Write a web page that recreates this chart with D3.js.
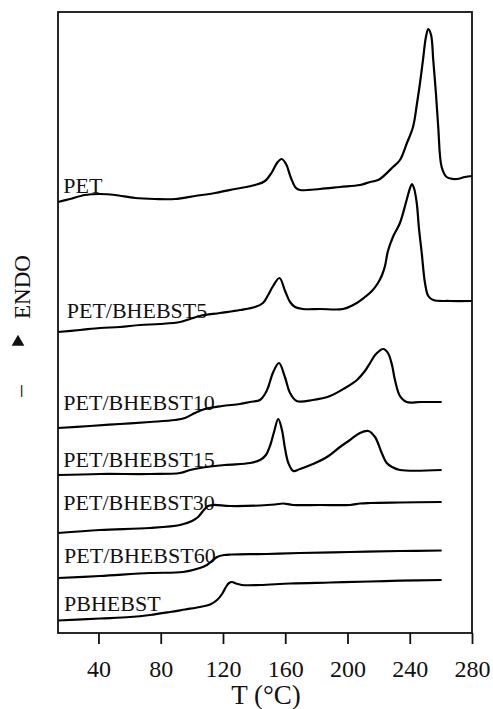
<!DOCTYPE html>
<html>
<head>
<meta charset="utf-8">
<script src="https://cdn.jsdelivr.net/npm/d3@7"></script>
<style>
  body { margin: 0; background: #fff; }
  text { font-family: "Liberation Serif", "Times New Roman", serif; fill: #111; }
</style>
</head>
<body>
<script>
// DSC traces, [T (°C), heat flow (a.u., stacked)]
var names = ["PET", "PET/BHEBST5", "PET/BHEBST10", "PET/BHEBST15", "PET/BHEBST30", "PET/BHEBST60", "PBHEBST"];

var pet = [[14,43.1],[21.7,43.4],[31.3,43.8],[41,43.9],[50.6,43.8],[63.5,43.5],[76.3,43.4],[89.2,43.4],[102,43.7],[114.9,44.0],[127.7,44.4],[140.6,44.8],[147,45.2],[151.5,46.1],[154.7,47.0],[157.7,47.4],[160.5,46.9],[163.7,45.5],[166.9,44.5],[169.5,44.3],[182.3,44.4],[195.2,44.6],[208,44.8],[214.5,45.1],[217.7,45.2],[220.9,45.4],[229.2,46.6],[233.7,47.3],[238.2,49.0],[242.1,50.6],[244.7,53.0],[246.6,55.0],[248.5,57.3],[250.4,59.6],[251.9,60.4],[253.7,59.8],[255.1,57.3],[256.9,53.8],[258.3,50.6],[260.5,46.6],[263.7,45.6],[267.8,45.4],[270.4,45.4],[275.5,45.6],[280,45.7]];

var bhebst5 = [[14,30.1],[28.1,30.3],[41,30.5],[53.8,30.6],[66.7,30.8],[79.5,30.9],[92.4,31.1],[98.8,31.4],[105.2,31.7],[118.1,32.0],[130.9,32.3],[140.6,32.6],[145.7,33.0],[149,33.8],[152.2,34.7],[156.3,35.5],[159.9,34.2],[163.1,33.1],[166.3,32.6],[171.4,32.4],[182.3,32.4],[197.1,32.4],[204.8,32.9],[211.2,33.6],[215.7,34.2],[219.6,35.0],[222.2,35.8],[224.1,36.7],[226,38.2],[229.2,39.6],[233.7,41.0],[238,43.3],[240.2,44.5],[241.4,44.9],[242.7,44.5],[244.5,43.0],[245.9,40.5],[247.7,38.0],[249.8,35.0],[251.9,33.7],[255.1,33.3],[265.9,33.2],[280,33.2]];

var bhebst10 = [[14,20.5],[34.6,20.7],[53.8,20.9],[73.1,21.1],[89.2,21.3],[95.6,21.5],[102,22.0],[108.4,22.4],[119.4,22.7],[130.9,22.9],[137.4,23.1],[143.8,23.3],[147,23.9],[149.1,24.6],[152.3,26.1],[156,27.0],[159.8,25.6],[163.1,24.0],[167.4,23.2],[177.8,23.3],[188.8,23.7],[198.4,24.5],[206.1,25.3],[211.2,26.2],[214.5,27.0],[218.3,27.9],[223,28.4],[226,28.0],[228.6,26.8],[230.5,25.3],[233.7,23.7],[238,23.1],[246.6,23.1],[260.5,23.1]];

var bhebst15 = [[14,15.8],[41,15.9],[73.1,15.9],[92.4,16.0],[98.8,16.3],[105.2,16.5],[121.3,16.8],[137.4,17.0],[143.8,17.3],[147.6,17.8],[150.2,18.7],[152.8,20.1],[155.5,21.4],[157.9,20.3],[159.8,18.5],[162,17.0],[165.2,16.2],[169.5,16.4],[177.8,16.9],[186.8,17.6],[195.2,18.6],[201.6,19.3],[208,20.0],[213.4,20.2],[217.7,19.6],[222,18.0],[225.2,17.0],[228.6,16.6],[233.7,16.3],[260.5,16.3]];

var bhebst30 = [[14,10.0],[41,10.3],[73.1,10.5],[92.4,10.8],[100.1,11.2],[104,11.6],[107.2,12.2],[110.4,12.7],[113.6,12.8],[124.5,12.7],[143.8,12.75],[153.4,12.85],[158.6,12.95],[165,12.8],[182.3,12.8],[201.6,12.8],[208,12.95],[214.5,13.0],[233.7,13.05],[260.5,13.1]];

var bhebst60 = [[14,5.5],[41,5.7],[73.1,6.0],[94.3,6.1],[105.2,6.5],[109.7,6.8],[112.9,7.2],[116.2,7.6],[120.7,7.8],[125.8,7.85],[148.1,7.9],[169.5,8.0],[201.6,8.1],[233.7,8.2],[260.5,8.25]];

var pbhebst = [[14,1.25],[41,1.45],[60.3,1.6],[73.1,1.8],[86,2.1],[95.6,2.35],[105.2,2.6],[111.7,2.85],[116.2,3.3],[119.4,3.9],[121.9,4.6],[123.9,5.0],[125.8,5.1],[128.4,4.95],[132.2,4.8],[143.8,4.8],[163.1,4.95],[188.8,5.05],[214.5,5.15],[233.7,5.23],[260.5,5.3]];

var series = [pet, bhebst5, bhebst10, bhebst15, bhebst30, bhebst60, pbhebst];

// where each curve name sits, [T, a.u.]
var labelAt = [[17.4,44.05],[19.6,31.47],[17.4,22.3],[17.4,16.6],[17.4,12.3],[17.9,6.97],[17.9,2.23]];

var xTicks = [40, 80, 120, 160, 200, 240, 280];

var m = { t: 12, r: 21, b: 76, l: 58 },
  width = 493 - m.l - m.r,
  height = 709 - m.t - m.b;

var x = d3.scaleLinear().domain([14, 280]).range([0, width]);
var y = d3.scaleLinear().domain([0, 62.1]).range([height, 0]);

var svg = d3.select("body").append("svg")
  .attr("width", 493)
  .attr("height", 709);

var g = svg.append("g")
  .attr("transform", "translate(" + m.l + "," + m.t + ")");

// curve names
g.selectAll(".lbl")
  .data(names)
  .enter().append("text")
  .attr("class", "lbl")
  .attr("x", function(d, i) { return x(labelAt[i][0]); })
  .attr("y", function(d, i) { return y(labelAt[i][1]); })
  .style("font-size", "22px")
  .text(function(d) { return d; });

var line = d3.line()
  .x(function(d) { return x(d[0]); })
  .y(function(d) { return y(d[1]); })
  .curve(d3.curveCatmullRom.alpha(0.5));

g.selectAll(".trace")
  .data(series)
  .enter().append("path")
  .attr("class", "trace")
  .attr("d", line)
  .attr("fill", "none")
  .attr("stroke", "#000")
  .attr("stroke-width", 2.2)
  .attr("stroke-linejoin", "round");

// frame
g.append("rect")
  .attr("width", width)
  .attr("height", height)
  .attr("fill", "none")
  .attr("stroke", "#111")
  .attr("stroke-width", 1.8);

var xAxis = d3.axisBottom(x).tickValues(xTicks).tickSize(11).tickPadding(16);

var ax = g.append("g")
  .attr("transform", "translate(0," + height + ")")
  .call(xAxis);
ax.select(".domain").remove();
ax.selectAll(".tick line").attr("stroke", "#111").attr("stroke-width", 1.8);
ax.selectAll(".tick text")
  .attr("fill", "#111")
  .style("font-family", "'Liberation Serif', 'Times New Roman', serif")
  .style("font-size", "24px");

g.append("text")
  .attr("x", width / 2 + 1)
  .attr("y", height + 71)
  .attr("text-anchor", "middle")
  .style("font-size", "27px")
  .text("T (°C)");

// y label: "ENDO" with an upward arrow and a dash below
svg.append("text")
  .attr("transform", "translate(30,287) rotate(-90)")
  .attr("text-anchor", "middle")
  .style("font-size", "23px")
  .text("ENDO");

svg.append("path")
  .attr("transform", "translate(18,342)")
  .attr("d", d3.symbol().type(d3.symbolTriangle).size(70))
  .attr("fill", "#111");

svg.append("text")
  .attr("transform", "translate(27,391) rotate(-90)")
  .attr("text-anchor", "middle")
  .style("font-size", "23px")
  .text("–");
</script>
</body>
</html>
